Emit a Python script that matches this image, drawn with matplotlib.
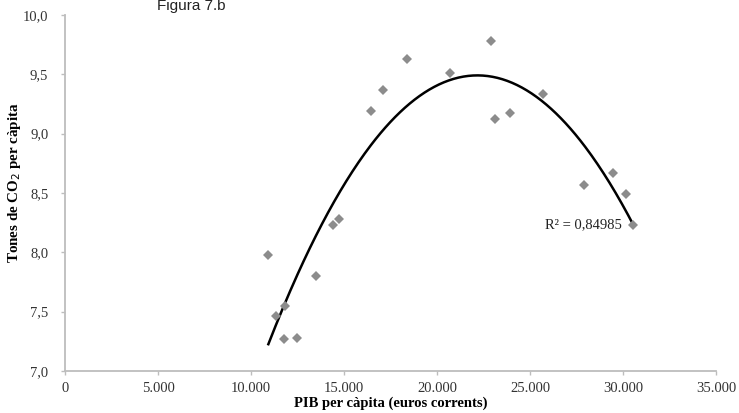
import numpy as np
import matplotlib
matplotlib.use("Agg")
import matplotlib.pyplot as plt
from matplotlib.ticker import FuncFormatter, MultipleLocator

# PIB per capita (euros) vs tones de CO2 per capita
pib = [10930, 11345, 11775, 11830, 12490, 13495, 14425, 14750, 16470, 17115,
       18405, 20680, 22903, 23100, 23925, 25720, 27920, 29440, 30160, 30520]
co2 = [7.98, 7.46, 7.27, 7.55, 7.28, 7.80, 8.23, 8.28, 9.19, 9.37,
       9.63, 9.51, 9.78, 9.12, 9.17, 9.33, 8.57, 8.67, 8.49, 8.23]
r2_label = "R² = 0,84985"

fig = plt.figure(figsize=(7.39, 4.13), dpi=100)
ax = fig.add_axes([0.088, 0.102, 0.881, 0.862])

ax.plot(pib, co2, linestyle="none", marker="D", markersize=5,
        color="#8c8c8c", markeredgewidth=0, zorder=3)

# quadratic trend line
coef = np.polyfit(pib, co2, 2)
xs = np.linspace(min(pib), max(pib), 300)
ax.plot(xs, np.polyval(coef, xs), color="black", linewidth=1.8, zorder=2)

ax.text(29950, 8.23, r2_label, ha="right", va="center",
        family="Liberation Serif", fontsize=10.5, color="#222222")

ax.set_xlim(0, 35000)
ax.set_ylim(7.0, 10.0)
ax.xaxis.set_major_locator(MultipleLocator(5000))
ax.yaxis.set_major_locator(MultipleLocator(0.5))
ax.xaxis.set_major_formatter(FuncFormatter(lambda v, p: f"{int(v):,}".replace(",", ".")))
ax.yaxis.set_major_formatter(FuncFormatter(lambda v, p: f"{v:.1f}".replace(".", ",")))

for s in ["top", "right"]:
    ax.spines[s].set_visible(False)
for s in ["left", "bottom"]:
    ax.spines[s].set_color("#bdbdbd")
    ax.spines[s].set_linewidth(1.3)
ax.tick_params(direction="out", length=3, width=1, color="#bdbdbd",
               labelsize=10.5, labelcolor="#333333")
ax.tick_params(axis="x", pad=5)
ax.tick_params(axis="y", pad=9)
for lbl in ax.get_xticklabels() + ax.get_yticklabels():
    lbl.set_family("Liberation Serif")

ax.set_xlabel("PIB per càpita (euros corrents)", family="Liberation Serif",
              fontweight="bold", fontsize=10.5)
ax.xaxis.set_label_coords(0.5, -0.072)
ax.set_ylabel("Tones de CO$_2$ per càpita", family="Liberation Serif",
              fontweight="bold", fontsize=10.8)
ax.yaxis.set_label_coords(-0.064, 0.53)

fig.text(191 / 739, 1 - 10 / 413, "Figura 7.b", ha="center", va="baseline",
         family="Liberation Sans", fontsize=11, color="#222222")

fig.savefig("out.png", dpi=100)
